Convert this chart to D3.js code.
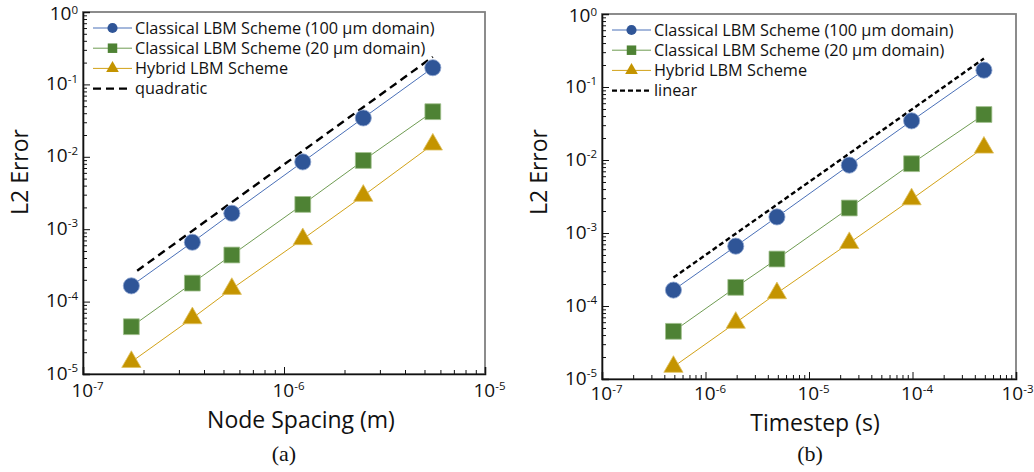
<!DOCTYPE html>
<html>
<head>
<meta charset="utf-8">
<script src="https://cdn.jsdelivr.net/npm/d3@7"></script>
<style>
    body { margin: 0; background: #fff; }
    svg { display: block; font-family: "Open Sans", sans-serif; }
    .legend-text { font-size: 16.3px; fill: #111; }
    .axis-title { font-size: 23px; fill: #111; }
    .caption { font-family: "Liberation Serif", serif; font-size: 22px; fill: #111; }
</style>
</head>
<body>
<svg id="chart" width="1034" height="472"></svg>
<script>
(function () {
    "use strict";

    // x values for each panel
    const nodeSpacing = [1.74e-7, 3.5e-7, 5.5e-7, 1.24e-6, 2.48e-6, 5.5e-6];
    const timestep = [4.9e-7, 1.96e-6, 4.9e-6, 2.45e-5, 9.8e-5, 4.9e-4];

    // L2 errors (same runs in both panels)
    const errClassical100 = [1.65e-4, 6.6e-4, 1.66e-3, 8.5e-3, 0.0344, 0.17];
    const errClassical20 = [4.5e-5, 1.8e-4, 4.4e-4, 2.2e-3, 8.9e-3, 0.042];
    const errHybrid = [1.47e-5, 5.9e-5, 1.5e-4, 7.3e-4, 2.9e-3, 0.0148];

    // reference slopes (end points)
    const quadraticX = [1.86e-7, 5.5e-6];
    const quadraticY = [2.67e-4, 0.24];
    const linearX = [4.9e-7, 4.9e-4];
    const linearY = [2.45e-4, 0.245];

    const seriesNames = [
        "Classical LBM Scheme (100 µm domain)",
        "Classical LBM Scheme (20 µm domain)",
        "Hybrid LBM Scheme"
    ];
    const yTickExps = [0, -1, -2, -3, -4, -5];
    const xTickExpsA = [-7, -6, -5];
    const xTickExpsB = [-7, -6, -5, -4, -3];

    const STYLES = [
        { line: "#4a70b8", fill: "#2f5597", edge: "#8fa6d0", symbol: d3.symbolCircle, size: 205, legSize: 80 },
        { line: "#6f9c52", fill: "#4e8234", edge: "#9fbf8c", symbol: d3.symbolSquare, size: 250, legSize: 90 },
        { line: "#d2a217", fill: "#c49400", edge: "#e0c060", symbol: d3.symbolTriangle, size: 160, legSize: 70 }
    ];

    const W = 1034;
    const svg = d3.select("#chart");

    function minorTicks(lo, hi) {
        const out = [];
        for (let e = lo; e < hi; e++) {
            for (let k = 2; k <= 9; k++) out.push(k * Math.pow(10, e));
        }
        return out;
    }

    // "10" with a raised exponent
    function powLabel(sel, exp, raise) {
        sel.text(null)
            .style("font-size", "19px")
            .style("font-family", "'Open Sans', sans-serif")
            .attr("fill", "#111");
        sel.append("tspan").text("10");
        sel.append("tspan")
            .attr("dy", -(raise || 7.5))
            .style("font-size", "11.5px")
            .text(exp === 0 ? "0" : "-" + Math.abs(exp));
    }

    function drawPanel(p) {
        const g = svg.append("g");
        const x = d3.scaleLog().domain(p.xDomain).range([p.left, p.right]);
        const y = d3.scaleLog().domain([1e-5, 1]).range([p.bottom, p.top]);

        // frame: top/right grey
        g.append("rect")
            .attr("x", p.left).attr("y", p.top)
            .attr("width", p.right - p.left).attr("height", p.bottom - p.top)
            .attr("fill", "none").attr("stroke", "#808080").attr("stroke-width", 1.8);

        const lo = Math.round(Math.log10(p.xDomain[0]));
        const hi = Math.round(Math.log10(p.xDomain[1]));

        // x axis: minor + major ticks pointing inwards
        g.append("g")
            .attr("transform", `translate(0,${p.bottom})`)
            .call(d3.axisBottom(x).tickValues(minorTicks(lo, hi)).tickSize(-4).tickFormat(""))
            .call((a) => a.select(".domain").remove());
        const xMaj = g.append("g")
            .attr("transform", `translate(0,${p.bottom})`)
            .call(d3.axisBottom(x).tickValues(p.xExps.map((e) => Math.pow(10, e))).tickSize(-7).tickPadding(p.xLabelGap));
        xMaj.select(".domain").attr("stroke", "#111").attr("stroke-width", 1.6);
        xMaj.selectAll(".tick text")
            .attr("dy", 0)
            .attr("dx", 4)
            .each(function (d) {
                const t = d3.select(this);
                powLabel(t, Math.round(Math.log10(d)));
                // keep the last label inside the picture
                const bb = this.getBBox();
                const tx = x(d) + 4 + bb.width / 2;
                if (tx > W - 1) t.attr("dx", 4 - (tx - (W - 1)));
            });

        // y axis
        g.append("g")
            .attr("transform", `translate(${p.left},0)`)
            .call(d3.axisLeft(y).tickValues(minorTicks(-5, 0)).tickSize(-4).tickFormat(""))
            .call((a) => a.select(".domain").remove());
        const yMaj = g.append("g")
            .attr("transform", `translate(${p.left},0)`)
            .call(d3.axisLeft(y).tickValues(yTickExps.map((e) => Math.pow(10, e))).tickSize(-7).tickPadding(5));
        yMaj.select(".domain").attr("stroke", "#111").attr("stroke-width", 1.6);
        yMaj.selectAll(".tick text")
            .attr("dy", (d) => (d === 1 ? "0.4em" : "0.27em"))
            .each(function (d) {
                const e = Math.round(Math.log10(d));
                powLabel(d3.select(this), e, e === 0 ? 6 : 7.5);
            });
        g.selectAll(".tick line").attr("stroke", "#111");

        // reference dashed line
        g.append("path")
            .datum(d3.zip(p.refX, p.refY))
            .attr("d", d3.line().x((d) => x(d[0])).y((d) => y(d[1])))
            .attr("fill", "none").attr("stroke", "#000")
            .attr("stroke-width", 2.4).attr("stroke-dasharray", p.dash);

        // series
        p.series.forEach(function (vals, i) {
            const st = STYLES[i];
            const pts = d3.zip(p.xs, vals);
            g.append("path")
                .datum(pts)
                .attr("d", d3.line().x((d) => x(d[0])).y((d) => y(d[1])))
                .attr("fill", "none").attr("stroke", st.line).attr("stroke-width", 1);
            g.selectAll(null)
                .data(pts)
                .enter()
                .append("path")
                .attr("d", d3.symbol().type(st.symbol).size(st.size))
                .attr("transform", (d) => `translate(${x(d[0])},${y(d[1])})`)
                .attr("fill", st.fill).attr("stroke", st.edge).attr("stroke-width", 0.8);
        });

        // legend
        const lg = g.append("g").attr("transform", `translate(${p.left + 10},${p.top + 16})`);
        const rowH = 20.2;
        seriesNames.concat([p.refName]).forEach(function (name, i) {
            const row = lg.append("g").attr("transform", `translate(0,${i * rowH})`);
            if (i < 3) {
                const st = STYLES[i];
                row.append("line").attr("x1", 0).attr("x2", 39).attr("y1", 0).attr("y2", 0)
                    .attr("stroke", st.line).attr("stroke-width", 1);
                row.append("path")
                    .attr("d", d3.symbol().type(st.symbol).size(st.legSize))
                    .attr("transform", "translate(19.5,0)")
                    .attr("fill", st.fill);
            } else {
                row.append("line").attr("x1", 0).attr("x2", 39).attr("y1", 0).attr("y2", 0)
                    .attr("stroke", "#000").attr("stroke-width", 2.4)
                    .attr("stroke-dasharray", p.dash);
            }
            row.append("text")
                .attr("class", "legend-text")
                .attr("x", 42).attr("y", 0).attr("dy", "0.35em")
                .text(name);
        });

        // axis titles
        g.append("text")
            .attr("class", "axis-title")
            .attr("text-anchor", "middle")
            .attr("x", p.xTitlePos[0]).attr("y", p.xTitlePos[1])
            .text(p.xTitle);
        g.append("text")
            .attr("class", "axis-title")
            .attr("text-anchor", "middle")
            .attr("transform", `translate(${p.yTitlePos[0]},${p.yTitlePos[1]}) rotate(-90)`)
            .text("L2 Error");
        g.append("text")
            .attr("class", "caption")
            .attr("text-anchor", "middle")
            .attr("x", p.captionPos[0]).attr("y", p.captionPos[1])
            .text(p.caption);
    }

    drawPanel({
        left: 83, right: 485, top: 12, bottom: 374, xLabelGap: 23,
        xDomain: [1e-7, 1e-5], xExps: xTickExpsA,
        xs: nodeSpacing,
        series: [errClassical100, errClassical20, errHybrid],
        refX: quadraticX, refY: quadraticY, refName: "quadratic", dash: "8,5",
        xTitle: "Node Spacing (m)", xTitlePos: [301, 428],
        yTitlePos: [28, 172],
        caption: "(a)", captionPos: [284, 461]
    });

    drawPanel({
        left: 602, right: 1016, top: 14, bottom: 379, xLabelGap: 21,
        xDomain: [1e-7, 1e-3], xExps: xTickExpsB,
        xs: timestep,
        series: [errClassical100, errClassical20, errHybrid],
        refX: linearX, refY: linearY, refName: "linear", dash: "5,3",
        xTitle: "Timestep (s)", xTitlePos: [815, 431],
        yTitlePos: [547, 172],
        caption: "(b)", captionPos: [810, 461]
    });
})();
</script>
</body>
</html>
